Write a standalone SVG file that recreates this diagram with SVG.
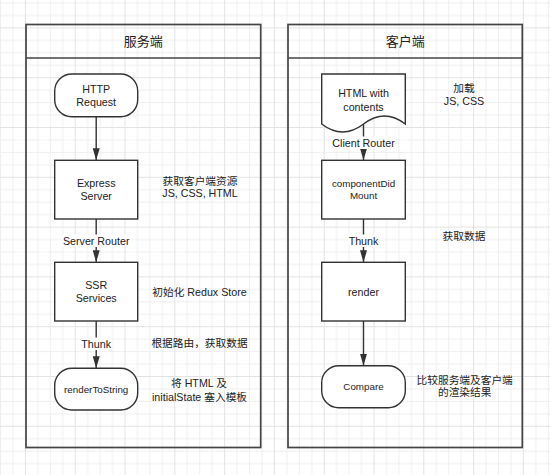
<svg xmlns="http://www.w3.org/2000/svg" width="550" height="475" viewBox="0 0 550 475">
<defs>
<pattern id="grid" x="0" y="2.5" width="49.8" height="49.8" patternUnits="userSpaceOnUse">
<path d="M0.5,0 V49.8 M12.95,0 V49.8 M37.85,0 V49.8 M0,0.5 H49.8 M0,12.95 H49.8 M0,37.85 H49.8" stroke="#efefef" stroke-width="1" fill="none"/>
<path d="M25.4,0 V49.8 M0,25.4 H49.8" stroke="#e3e3e3" stroke-width="1" fill="none"/>
</pattern>
<marker id="arrow" viewBox="0 0 12 7" refX="12" refY="3.5" markerWidth="12" markerHeight="7" markerUnits="userSpaceOnUse" orient="auto">
<path d="M0,0 L12,3.5 L0,7 z" fill="#333"/>
</marker>
<style>
.pool{fill:none;stroke:#444;stroke-width:1.7}
.node{fill:#fff;stroke:#333;stroke-width:1.4}
.edge{fill:none;stroke:#333;stroke-width:1.4}
.t{font-family:"Liberation Sans","Noto Sans CJK SC",sans-serif;font-size:10.7px;fill:#222;text-anchor:middle}
.s{font-size:9.8px}
.h{font-size:13px}
.lbg{fill:#fff}
</style>
</defs>
<rect width="550" height="475" fill="#fff"/>
<rect width="550" height="475" fill="url(#grid)"/>

<g id="pool-server">
<rect class="pool" x="26" y="24.5" width="234.7" height="423"/>
<line class="pool" x1="26" y1="58" x2="260.7" y2="58"/>
<text class="t h" x="143.3" y="46.3">服务端</text>
</g>
<g id="pool-client">
<rect class="pool" x="288" y="24.5" width="234.3" height="423"/>
<line class="pool" x1="288" y1="58" x2="522.3" y2="58"/>
<text class="t h" x="405.2" y="46.3">客户端</text>
</g>

<g id="connectors">
<line class="edge" x1="96.2" y1="116.7" x2="96.2" y2="160.3" marker-end="url(#arrow)"/>
<line class="edge" x1="96.2" y1="219" x2="96.2" y2="262.3" marker-end="url(#arrow)"/>
<rect class="lbg" x="62" y="234.5" width="68.5" height="12.5"/>
<text class="t" x="96.2" y="244.5">Server Router</text>
<line class="edge" x1="96.2" y1="321" x2="96.2" y2="368.3" marker-end="url(#arrow)"/>
<rect class="lbg" x="81" y="337.5" width="30.5" height="12.5"/>
<text class="t" x="96.2" y="347.5">Thunk</text>
<line class="edge" x1="363.5" y1="124" x2="363.5" y2="160.3" marker-end="url(#arrow)"/>
<rect class="lbg" x="331" y="136.5" width="65" height="12.5"/>
<text class="t" x="363.5" y="146.5">Client Router</text>
<line class="edge" x1="363.5" y1="219" x2="363.5" y2="262.3" marker-end="url(#arrow)"/>
<rect class="lbg" x="348.3" y="234.5" width="30.5" height="12.5"/>
<text class="t" x="363.5" y="244.5">Thunk</text>
<line class="edge" x1="363.5" y1="321" x2="363.5" y2="365.7" marker-end="url(#arrow)"/>
</g>

<g id="http-request">
<rect class="node" x="54.7" y="74" width="83" height="42.7" rx="17" ry="17"/>
<text class="t" x="96.2" y="92.8">HTTP</text>
<text class="t" x="96.2" y="105.5">Request</text>
</g>
<g id="express-server">
<rect class="node" x="54.7" y="160.3" width="83" height="58.7"/>
<text class="t" x="96.2" y="186.5">Express</text>
<text class="t" x="96.2" y="199.5">Server</text>
</g>
<g id="ssr-services">
<rect class="node" x="54.7" y="262.3" width="83" height="58.7"/>
<text class="t" x="96.2" y="288.8">SSR</text>
<text class="t" x="96.2" y="302.1">Services</text>
</g>
<g id="render-to-string">
<rect class="node" x="54.7" y="368.3" width="83" height="41.7" rx="17" ry="17"/>
<text class="t s" x="96.2" y="392.8">renderToString</text>
</g>

<g id="html-with-contents">
<path class="node" d="M321.7,74 H405.3 V124 Q384.4,108 363.5,124 Q342.6,140 321.7,124 Z"/>
<text class="t" x="363.5" y="97.1">HTML with</text>
<text class="t" x="363.5" y="111.1">contents</text>
</g>
<g id="component-did-mount">
<rect class="node" x="321.7" y="160.3" width="83.6" height="58.7"/>
<text class="t s" x="363.5" y="186.8">componentDid</text>
<text class="t s" x="363.5" y="198.5">Mount</text>
</g>
<g id="render">
<rect class="node" x="321.7" y="262.3" width="83.6" height="58.7"/>
<text class="t" x="363.5" y="295.5">render</text>
</g>
<g id="compare">
<rect class="node" x="321.7" y="365.7" width="83.6" height="42" rx="17" ry="17"/>
<text class="t s" x="363.5" y="389.5">Compare</text>
</g>

<g id="annotations">
<text class="t" x="200" y="184.6">获取客户端资源</text>
<text class="t" x="200" y="197.1">JS, CSS, HTML</text>
<text class="t" x="199.5" y="295.5">初始化 Redux Store</text>
<text class="t" x="199.5" y="346.5">根据路由，获取数据</text>
<text class="t" x="199" y="387.1">将 HTML 及</text>
<text class="t" x="199.5" y="400.5">initialState 塞入模板</text>
<text class="t" x="464" y="92.1">加载</text>
<text class="t" x="464" y="104.5">JS, CSS</text>
<text class="t" x="464" y="239.5">获取数据</text>
<text class="t" x="464.7" y="383.8">比较服务端及客户端</text>
<text class="t" x="464.7" y="396.1">的渲染结果</text>
</g>
</svg>
